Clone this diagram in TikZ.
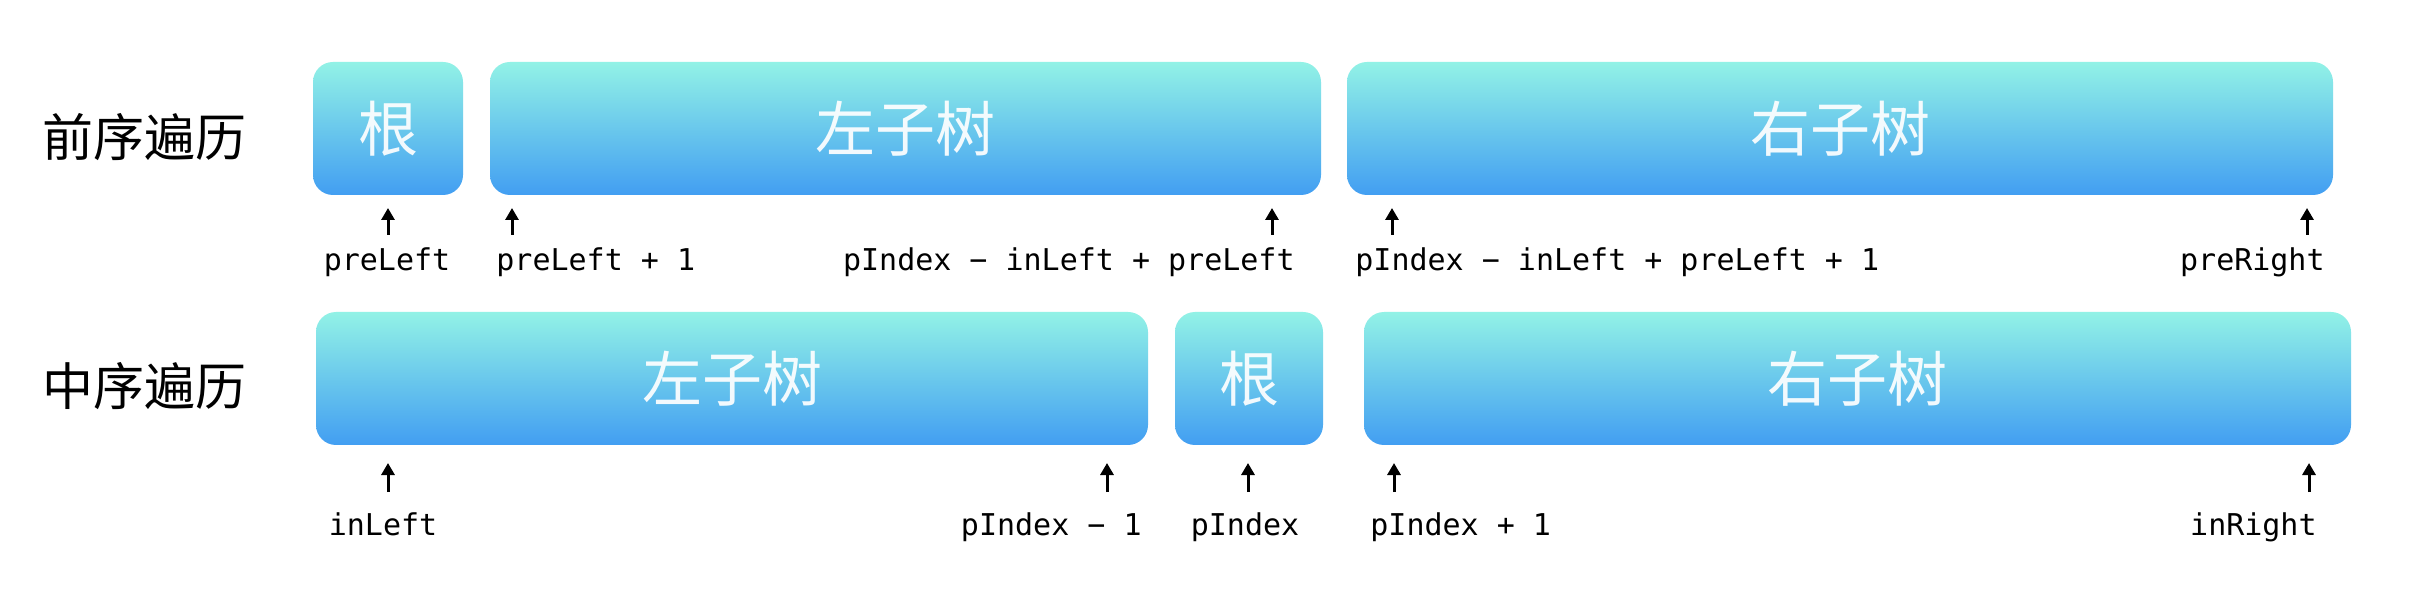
\documentclass[tikz,border=0pt]{standalone}
\usepackage{fontspec}
\setmainfont{DejaVu Sans}
\newfontfamily\cjk{Noto Sans CJK SC}
\newfontfamily\monof{DejaVu Sans Mono}
\usetikzlibrary{arrows.meta}
\definecolor{topc}{RGB}{146,242,230}
\definecolor{botc}{RGB}{66,158,242}
\begin{document}
\begin{tikzpicture}[x=0.5pt,y=-0.5pt,
  box/.style={rectangle, rounded corners=10pt, top color=topc, bottom color=botc, draw=none, inner sep=0pt, minimum height=66.5pt, font=\cjk\fontsize{30}{36}\selectfont, text=white, text opacity=0.92},
  title/.style={font=\cjk\fontsize{25.5}{30}\selectfont, text=black, inner sep=0pt},
  lbl/.style={font=\monof\fontsize{15}{18}\selectfont, inner sep=0pt},
  arr/.style={line width=1.5pt, -{Triangle[length=6pt,width=6.5pt]}}]
\useasboundingbox (0,0) rectangle (2414,598);
\fill[white] (0,0) rectangle (2414,598);
% preorder row
\node[title, anchor=west] (t1) at (42,137) {前序遍历};
\node[box, minimum width=75pt] (root1) at (388,128.5) {根};
\node[box, minimum width=415.5pt] (left1) at (905.5,128.5) {左子树};
\node[box, minimum width=493pt] (right1) at (1840,128.5) {右子树};
\foreach \n/\x in {a/388, b/512, c/1272, d/1392, e/2307}{
  \coordinate (pt\n) at (\x,235);
  \coordinate (ph\n) at (\x,208);
  \draw[arr] (pt\n) -- (ph\n);
}
\node[lbl, anchor=base] (p1) at (387,271) {preLeft};
\node[lbl, anchor=base west] (p2) at (496,271) {preLeft + 1};
\node[lbl, anchor=base east] (p3) at (1295,271) {pIndex − inLeft + preLeft};
\node[lbl, anchor=base west] (p4) at (1355,271) {pIndex − inLeft + preLeft + 1};
\node[lbl, anchor=base east] (p5) at (2325,271) {preRight};
% inorder row
\node[title, anchor=west] (t2) at (42,386) {中序遍历};
\node[box, minimum width=416pt] (left2) at (732,378.5) {左子树};
\node[box, minimum width=74pt] (root2) at (1249,378.5) {根};
\node[box, minimum width=493.5pt] (right2) at (1857.5,378.5) {右子树};
\foreach \n/\x in {a/388, b/1107, c/1248, d/1394, e/2309}{
  \coordinate (it\n) at (\x,492);
  \coordinate (ih\n) at (\x,463);
  \draw[arr] (it\n) -- (ih\n);
}
\node[lbl, anchor=base] (i1) at (383,535) {inLeft};
\node[lbl, anchor=base east] (i2) at (1142,535) {pIndex − 1};
\node[lbl, anchor=base] (i3) at (1245,535) {pIndex};
\node[lbl, anchor=base west] (i4) at (1370,535) {pIndex + 1};
\node[lbl, anchor=base east] (i5) at (2317,535) {inRight};
\end{tikzpicture}
\end{document}
